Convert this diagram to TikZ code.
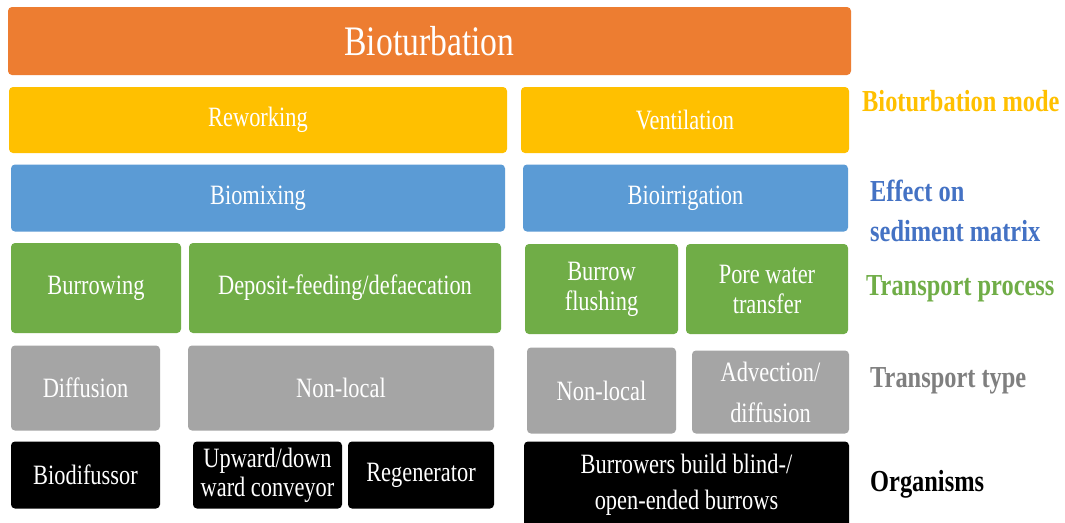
\documentclass[tikz,border=0pt]{standalone}
\usepackage{fontspec}
\setmainfont{Liberation Serif}[FakeStretch=0.8]
\definecolor{corange}{HTML}{ED7D31}
\definecolor{cyellow}{HTML}{FFC000}
\definecolor{cblue}{HTML}{5B9BD5}
\definecolor{cbluelab}{HTML}{4472C4}
\definecolor{cgreen}{HTML}{70AD47}
\definecolor{cgray}{HTML}{A5A5A5}
\definecolor{cgraylab}{HTML}{7F7F7F}
\tikzset{
  blk/.style={rectangle, rounded corners=4pt, inner sep=0pt, outer sep=0pt, text=white, align=center, font=\fontsize{28}{30}\selectfont},
  orangebox/.style={blk, fill=corange},
  yellowbox/.style={blk, fill=cyellow},
  bluebox/.style={blk, fill=cblue},
  greenbox/.style={blk, fill=cgreen},
  graybox/.style={blk, fill=cgray},
  blackbox/.style={blk, fill=black},
  lab/.style={anchor=west, inner sep=0pt, align=left, font=\bfseries\fontsize{30.5}{40}\selectfont}
}
\begin{document}
\begin{tikzpicture}[x=1pt,y=-1pt]
\useasboundingbox (0,0) rectangle (1065,522);
\fill[white] (0,0) rectangle (1065,522);
\node[orangebox, minimum width=843pt, minimum height=68pt, font=\fontsize{42}{46}\selectfont] (bio) at (429.5,41) {Bioturbation};
\node[yellowbox, minimum width=498pt, minimum height=66pt] (rew) at (258,120) {Reworking};
\node[yellowbox, minimum width=328pt, minimum height=66pt] (ven) at (685,120) {Ventilation};
\node[bluebox, minimum width=494pt, minimum height=67pt] (bmix) at (258,198) {Biomixing};
\node[bluebox, minimum width=325pt, minimum height=67pt] (birr) at (685.5,198) {Bioirrigation};
\node[greenbox, minimum width=170pt, minimum height=90pt] (burr) at (96,288) {Burrowing};
\node[greenbox, minimum width=312pt, minimum height=90pt] (dep) at (345,288) {Deposit-feeding/defaecation};
\node[greenbox, minimum width=153pt, minimum height=90pt] (flush) at (601.5,289) {Burrow\\flushing};
\node[greenbox, minimum width=162pt, minimum height=90pt] (pore) at (767,289) {Pore water\\transfer};
\node[graybox, minimum width=149pt, minimum height=85pt] (diff) at (85.5,388) {Diffusion};
\node[graybox, minimum width=306pt, minimum height=85pt] (nl) at (341,388) {Non-local};
\node[graybox, minimum width=149pt, minimum height=86pt] (nl2) at (601.5,390.5) {Non-local};
\node[graybox, minimum width=157pt, minimum height=83pt, font=\fontsize{28}{41}\selectfont] (adv) at (770.5,392) {Advection/\\diffusion};
\node[blackbox, minimum width=149pt, minimum height=67pt] (bdif) at (85.5,475) {Biodifussor};
\node[blackbox, minimum width=149pt, minimum height=67pt, font=\fontsize{28}{29}\selectfont] (up) at (267.5,475) {Upward/down\\ward conveyor};
\node[blackbox, minimum width=146pt, minimum height=67pt] (regen) at (421,475) {Regenerator};
\node[blackbox, minimum width=325pt, minimum height=86pt, font=\fontsize{28}{36}\selectfont] (bb) at (686.5,484.5) {Burrowers build blind-/\\open-ended burrows};
\node[lab, text=cyellow] (l1) at (862,101) {Bioturbation mode};
\node[lab, text=cbluelab] (l2) at (870,211) {Effect on\\sediment matrix};
\node[lab, text=cgreen] (l3) at (866,289) {Transport process};
\node[lab, text=cgraylab] (l4) at (870,381) {Transport type};
\node[lab, text=black] (l5) at (870,484) {Organisms};
\end{tikzpicture}
\end{document}
